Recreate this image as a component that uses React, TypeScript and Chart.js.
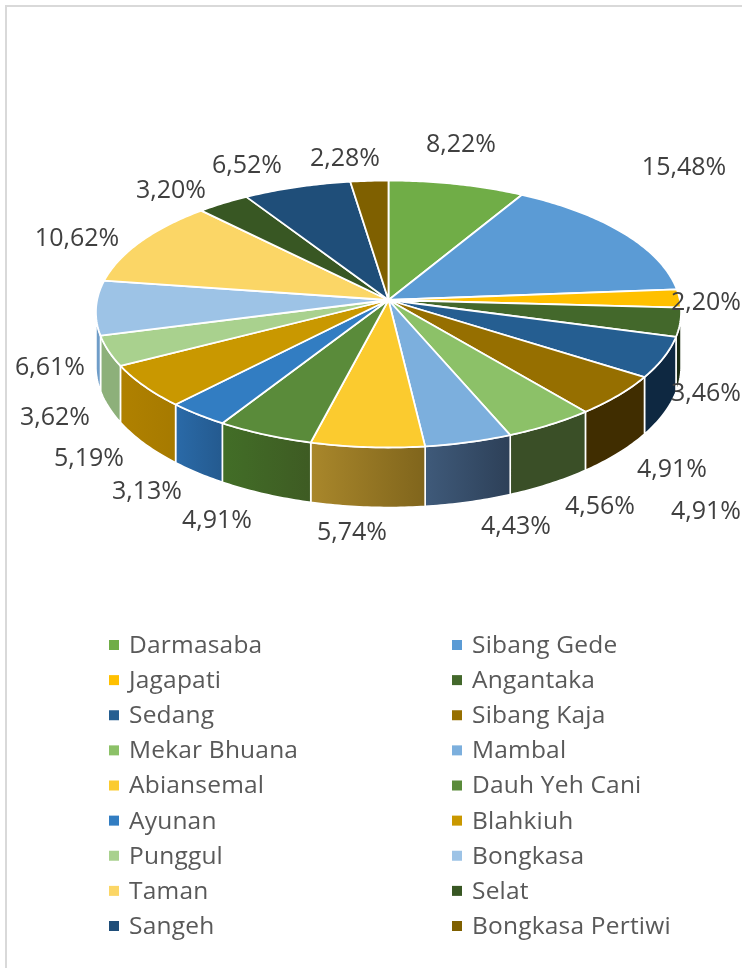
import React, { useEffect, useRef } from "react";
import { Chart, registerables } from "chart.js";

Chart.register(...registerables);

const categories = [
  "Darmasaba", "Sibang Gede", "Jagapati", "Angantaka", "Sedang", "Sibang Kaja",
  "Mekar Bhuana", "Mambal", "Abiansemal", "Dauh Yeh Cani", "Ayunan", "Blahkiuh",
  "Punggul", "Bongkasa", "Taman", "Selat", "Sangeh", "Bongkasa Pertiwi",
];
const shares = [
  8.22, 15.48, 2.2, 3.46, 4.91, 4.91, 4.56, 4.43, 5.74, 4.91, 3.13, 5.19, 3.62,
  6.61, 10.62, 3.2, 6.52, 2.28,
];
const topColors = [
  "#70AD47", "#5B9BD5", "#FFC000", "#43682B", "#255E91", "#966F00",
  "#8CC168", "#7CAFDD", "#FBCB2F", "#5A8B3A", "#327DC2", "#C99800",
  "#A9D18E", "#9DC3E6", "#FBD666", "#385723", "#1F4E79", "#7F6000",
];
const wallLeftColors = [
  "#4A732F", "#3C6890", "#A98000", "#1C2C12", "#0E2841", "#402D00",
  "#3A4F27", "#3F5A7A", "#A9872B", "#426E27", "#2A6AA8", "#B08100",
  "#8DB07A", "#6F9DC8", "#A68F44", "#263A17", "#143450", "#544000",
];
const wallRightColors = [
  "#4A732F", "#3C6890", "#A98000", "#1C2C12", "#0E2841", "#402D00",
  "#3A4F27", "#2D4058", "#80651C", "#3E5B23", "#245A8F", "#A67A00",
  "#8DB07A", "#6F9DC8", "#A68F44", "#263A17", "#143450", "#544000",
];
// centre of each percentage label in the picture
const labelCentres: [number, number][] = [
  [461, 145], [684, 168], [706, 303], [706, 394], [706, 512], [672, 470],
  [600, 507], [516, 527], [352, 533], [217, 521], [147, 492], [89, 459],
  [55, 418], [50, 368], [77, 239], [171, 191], [247, 166], [345, 159],
];

// pie projection
const APEX_X = 388.5;
const APEX_Y = 300;
const RADIUS_X = 291.4;
const RADIUS_Y = 132;
const TILT = 0.105;
const TILT_X = 0.09;
const DEPTH = 53.7;

const WIDTH = 742;
const HEIGHT = 968;

type Pt = { x: number; y: number };

// angle is the Chart.js arc angle (0 = 3 o'clock, clockwise)
function rim(angle: number, lowered = false): Pt {
  const X = Math.cos(angle);
  const Y = Math.sin(angle);
  const w = 1 - TILT * Y;
  return {
    x: APEX_X + (RADIUS_X * X) / (1 - TILT_X * Y),
    y: APEX_Y + (RADIUS_Y * Y) / w + (lowered ? DEPTH / w : 0),
  };
}

function anglesBetween(a: number, b: number): number[] {
  const steps = Math.max(2, Math.ceil((b - a) / (Math.PI / 240)));
  const out: number[] = [];
  for (let i = 0; i <= steps; i++) out.push(a + ((b - a) * i) / steps);
  return out;
}

const pie3d = {
  id: "pie3d",
  beforeDraw(chart: any) {
    const ctx = chart.ctx;
    ctx.save();
    ctx.fillStyle = "#FFFFFF";
    ctx.fillRect(0, 0, WIDTH, HEIGHT);
    ctx.fillStyle = "#D9D9D9";
    ctx.fillRect(5, 5, WIDTH - 5, 2);
    ctx.fillRect(5, 5, 2, HEIGHT - 5);
    ctx.restore();
  },
  beforeDatasetsDraw(chart: any) {
    const ctx = chart.ctx;
    const arcs = chart.getDatasetMeta(0).data;
    ctx.save();
    ctx.lineJoin = "round";

    // walls: only the near half of the rim shows (sin(angle) above TILT)
    const fromA = Math.asin(TILT);
    const toA = Math.PI - fromA;
    arcs.forEach((arc: any, i: number) => {
      // bring the arc's angles into the range that contains the near half
      let s = arc.startAngle;
      let e = arc.endAngle;
      const tau = Math.PI * 2;
      while (s < -Math.PI / 2) { s += tau; e += tau; }
      while (s >= (3 * Math.PI) / 2) { s -= tau; e -= tau; }
      const a = Math.max(s, fromA);
      const b = Math.min(e, toA);
      if (b <= a) return;
      const angles = anglesBetween(a, b);
      const upper = angles.map((t) => rim(t));
      const lower = angles.map((t) => rim(t, true));
      const xs = upper.concat(lower).map((p) => p.x);
      const g = ctx.createLinearGradient(Math.min(...xs), 0, Math.max(...xs), 0);
      g.addColorStop(0, wallLeftColors[i]);
      g.addColorStop(1, wallRightColors[i]);
      ctx.beginPath();
      upper.forEach((p, k) => (k ? ctx.lineTo(p.x, p.y) : ctx.moveTo(p.x, p.y)));
      lower.reverse().forEach((p) => ctx.lineTo(p.x, p.y));
      ctx.closePath();
      ctx.fillStyle = g;
      ctx.fill();
      ctx.strokeStyle = "#FFFFFF";
      ctx.lineWidth = 1.6;
      ctx.stroke();
    });

    // top face
    arcs.forEach((arc: any, i: number) => {
      const pts = anglesBetween(arc.startAngle, arc.endAngle).map((t) => rim(t));
      ctx.beginPath();
      ctx.moveTo(APEX_X, APEX_Y);
      pts.forEach((p) => ctx.lineTo(p.x, p.y));
      ctx.closePath();
      ctx.fillStyle = topColors[i];
      ctx.fill();
      ctx.strokeStyle = "#FFFFFF";
      ctx.lineWidth = 1.8;
      ctx.stroke();
    });

    // percentage labels
    ctx.fillStyle = "#404040";
    ctx.font = '25px "Open Sans"';
    ctx.textAlign = "center";
    ctx.textBaseline = "middle";
    shares.forEach((v, i) => {
      const [x, y] = labelCentres[i];
      ctx.fillText(v.toFixed(2).replace(".", ",") + "%", x, y);
    });

    // legend: two columns, filled row by row
    const rowTop = 646;
    const rowStep = 35.125;
    ctx.textAlign = "left";
    ctx.font = '24.5px "Open Sans"';
    (ctx as any).letterSpacing = "0.2px";
    categories.forEach((name, i) => {
      const col = i % 2;
      const row = (i - col) / 2;
      const x = col ? 452 : 109;
      const y = rowTop + row * rowStep;
      ctx.fillStyle = topColors[i];
      ctx.fillRect(x, y - 6, 10, 10);
      ctx.fillStyle = "#595959";
      ctx.fillText(name, x + 20, y);
    });
    ctx.restore();
    return false;
  },
};

export default function App() {
  const ref = useRef<HTMLCanvasElement>(null);
  useEffect(() => {
    document.body.style.margin = "0";
    const chart = new Chart(ref.current as HTMLCanvasElement, {
      type: "pie",
      data: {
        labels: categories,
        datasets: [{ data: shares, backgroundColor: topColors, borderColor: "#FFFFFF" }],
      },
      options: {
        responsive: false,
        animation: false,
        plugins: { legend: { display: false }, tooltip: { enabled: false } },
      },
      plugins: [pie3d],
    } as any);
    return () => chart.destroy();
  }, []);
  return <canvas ref={ref} width={WIDTH} height={HEIGHT} style={{ display: "block" }} />;
}
